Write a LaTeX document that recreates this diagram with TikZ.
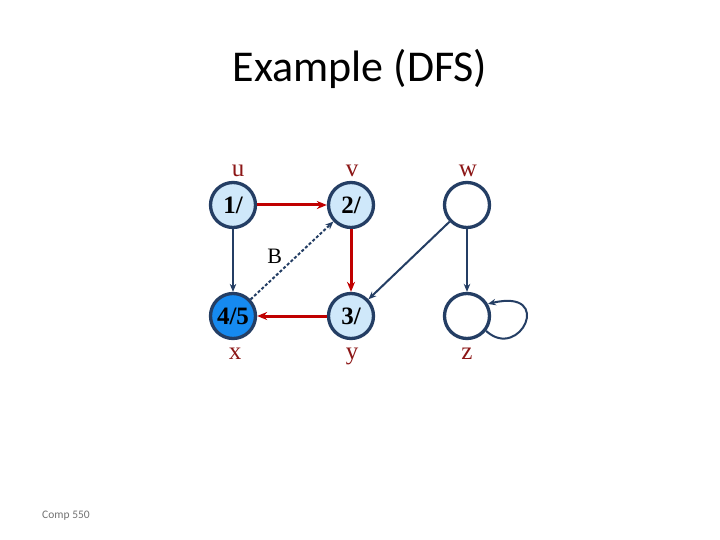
\documentclass[tikz,border=0pt]{standalone}
\usepackage{fontspec}
\setmainfont{Liberation Serif}
\newfontfamily\titlefont{Carlito}
\usetikzlibrary{arrows.meta}
\definecolor{vtxline}{RGB}{36,62,100}
\definecolor{vtxfill}{RGB}{207,232,250}
\definecolor{vtxdone}{RGB}{22,138,240}
\definecolor{lblred}{RGB}{140,22,22}
\definecolor{treered}{RGB}{192,0,0}
\definecolor{edgeblue}{RGB}{36,62,100}

\begin{document}
\begin{tikzpicture}[x=1pt, y=-1pt,
    vtx/.style={circle, draw=vtxline, line width=3.3pt, minimum size=45pt, inner sep=0pt,
        font=\bfseries\fontsize{25}{25}\selectfont},
    lbl/.style={anchor=base, text=lblred, font=\fontsize{25}{25}\selectfont},
    tree/.style={-{Stealth[length=10pt,width=8pt]}, treered, line width=3pt},
    edge/.style={-{Stealth[length=8pt,width=6.5pt]}, edgeblue, line width=2pt}]
    \useasboundingbox[fill=white] (0,0) rectangle (720,540);
    \node[anchor=base, font=\titlefont\fontsize{44}{44}\selectfont] (title) at (360,82) {Example (DFS)};
    \node[anchor=base, text=black!55, font=\titlefont\fontsize{11.5}{11.5}\selectfont] (foot) at (66,518) {Comp 550};

    \node[vtx, fill=vtxfill] (u) at (233,205) {1/};
    \node[vtx, fill=vtxfill] (v) at (351,205) {2/};
    \node[vtx, fill=white] (w) at (467,205) {};
    \node[vtx, fill=vtxdone] (x) at (233,316) {4/5};
    \node[vtx, fill=vtxfill] (y) at (351,316) {3/};
    \node[vtx, fill=white] (z) at (467,316) {};

    \node[lbl] (ul) at (238,177) {u};
    \node[lbl] (vl) at (352,177) {v};
    \node[lbl] (wl) at (468,177) {w};
    \node[lbl] (xl) at (235,359) {x};
    \node[lbl] (yl) at (352,359) {y};
    \node[lbl] (zl) at (467,359) {z};

    \draw[tree] (u) -- (v);
    \draw[tree] (v) -- (y);
    \draw[tree] (y) -- (x);
    \draw[edge, line width=1.1pt] (u) -- (x);
    \draw[edge, dash pattern=on 3pt off 2pt] (x) -- (v)
        node[pos=0.42, above left=-1pt, text=black, font=\fontsize{22}{22}\selectfont] (back) {B};
    \draw[edge] (w) -- (y);
    \draw[edge] (w) -- (z);
    \draw[edge] (z.-38) .. controls (520,362) and (555,288) .. (z.30);
\end{tikzpicture}
\end{document}
